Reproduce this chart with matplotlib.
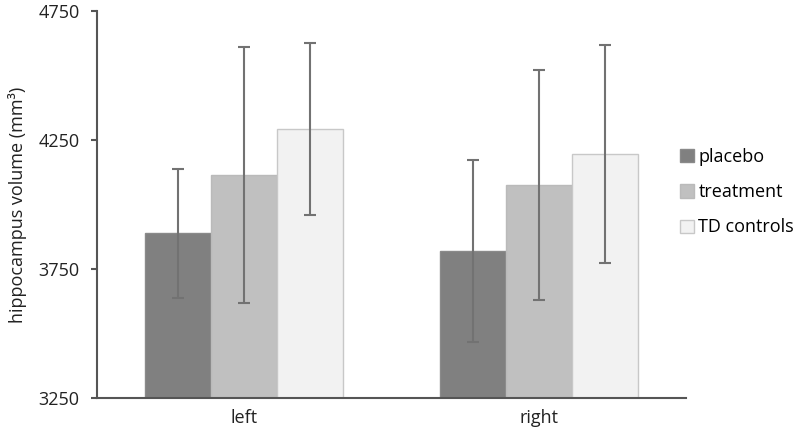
import numpy as np
import matplotlib.pyplot as plt

plt.rcParams['font.family'] = ['Open Sans', 'DejaVu Sans']

# Data
sides = ['left', 'right']
groups = ['placebo', 'treatment', 'TD controls']
placebo = [3888, 3820]
treatment = [4113, 4076]
td_controls = [4292, 4195]
placebo_err = [250, 352]
treatment_err = [496, 447]
td_err = [333, 422]
y_ticks = [3250, 3750, 4250, 4750]

colors = ['#808080', '#c0c0c0', '#f2f2f2']
edges = ['#8a8a8a', '#bababa', '#c8c8c8']

fig = plt.figure(figsize=(8, 4.37), dpi=100)
ax = fig.add_axes([0.121, 0.089, 0.737, 0.886])

x = np.arange(len(sides))
width = 0.224
series = [placebo, treatment, td_controls]
errs = [placebo_err, treatment_err, td_err]
for i, (vals, err) in enumerate(zip(series, errs)):
    ax.bar(x + (i - 1) * width, vals, width, yerr=err, color=colors[i],
           edgecolor=edges[i], linewidth=1, label=groups[i],
           error_kw=dict(ecolor='#727272', elinewidth=1.5, capsize=4, capthick=1.5))

ax.set_xlim(-0.5, 1.5)
ax.set_ylim(3250, 4750)
ax.set_yticks(y_ticks)
ax.set_xticks(x)
ax.set_xticklabels(sides)
ax.tick_params(axis='x', length=0, pad=8, labelsize=13, colors='#222222')
ax.tick_params(axis='y', length=4.5, width=1.5, color='#555555', labelsize=13,
               labelcolor='#222222', pad=8)
for s in ['top', 'right']:
    ax.spines[s].set_visible(False)
for s in ['left', 'bottom']:
    ax.spines[s].set_color('#555555')
    ax.spines[s].set_linewidth(1.5)
ax.set_ylabel('hippocampus volume (mm³)', fontsize=13, color='#222222', labelpad=8)

ax.legend(loc='center left', bbox_to_anchor=(0.83, 0.56), bbox_transform=fig.transFigure,
          frameon=False, fontsize=13, handlelength=0.75, handleheight=0.75,
          handletextpad=0.25, labelspacing=0.95)

fig.savefig('out.png', dpi=100)
